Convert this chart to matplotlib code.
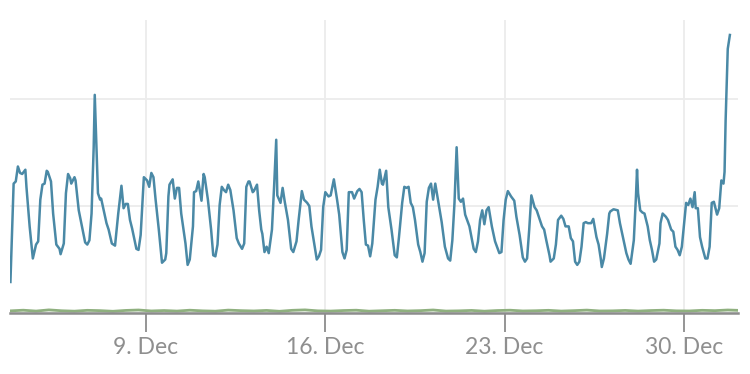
import numpy as np
import pandas as pd
import matplotlib
matplotlib.use("Agg")
import matplotlib.pyplot as plt
import matplotlib.dates as mdates

plt.rcParams["font.family"] = ["Lato", "DejaVu Sans"]

START = pd.Timestamp("2019-12-03")

# hours since START, and the blue series value at that hour
blue_hours = [
    17, 20, 22, 24, 26, 28, 31, 32, 35, 38, 41, 43, 45, 47, 49, 51, 52, 55, 57, 60,
    63, 64, 67, 69, 71, 73, 74, 77, 78, 81, 84, 87, 89, 91, 93, 95, 96, 99, 101, 102,
    107, 109, 112, 115, 118, 121, 123, 125, 127,
    129, 131, 135, 137, 139, 142, 145, 147, 149, 151, 153, 156, 159, 162, 163, 165, 166, 169, 171, 173,
    175, 177, 181, 183, 185, 188, 189, 191, 193, 196, 198, 199, 202, 205, 207, 209, 211, 213, 215, 217,
    219, 221, 223, 226, 229, 231, 234, 236, 238, 240,
    241, 244, 245, 248, 250, 252, 253, 255, 257, 259, 262, 264, 266, 267, 270, 272, 274, 277, 280, 282,
    285, 287, 290, 292, 295, 297, 299, 302, 304, 306, 308, 310, 312, 315, 317, 320, 323, 325, 328, 330,
    332, 334, 337, 339, 342, 344, 346, 348, 350, 352, 354,
    356, 359, 361, 363, 365, 366, 369, 371, 374, 377, 379, 381, 384, 386, 388, 390, 392, 394, 396, 399,
    401, 403, 405, 407, 409, 411, 413, 415, 418, 421, 424, 427, 429, 431, 433, 435, 437, 439, 441, 443,
    447, 451, 453, 455, 457, 459, 461, 463, 465,
    468, 471, 475, 477, 479, 481, 483, 486, 489, 491, 494, 497, 499, 501, 503, 505, 508, 510, 512, 515,
    517, 519, 522, 523, 526, 528, 530, 533, 535, 537, 540, 542, 544, 546, 548, 550, 552, 554, 556, 558,
    561, 563, 566, 568, 570, 571, 573, 576, 578,
    579, 582, 586, 588, 591, 594, 596, 598, 601, 603, 604, 605, 607, 609, 611, 614, 616, 618, 620, 622,
    625, 626, 628, 631, 633, 636, 638, 640, 642, 644, 646, 649, 650, 652, 654, 656, 658, 659, 661, 663,
    665, 668, 670, 672, 674, 676, 679, 681, 683, 685, 686, 687, 689, 691,
]
blue_values = [
    29, 121, 123, 137, 131, 130, 134, 118, 81, 51, 64, 67, 106, 120, 121, 133, 132, 123, 93, 64,
    60, 55, 65, 112, 130, 126, 121, 127, 124, 96, 81, 66, 64, 68, 93, 155, 204, 112, 106, 107,
    84, 78, 65, 63, 93, 119, 98, 102, 102,
    87, 79, 60, 59, 73, 127, 124, 118, 131, 127, 106, 78, 47, 50, 56, 109, 120, 125, 107, 117,
    117, 93, 65, 45, 50, 81, 113, 114, 123, 105, 130, 127, 106, 78, 54, 53, 64, 101, 118, 115,
    113, 120, 115, 96, 70, 65, 60, 65, 118, 123,
    123, 113, 114, 120, 96, 78, 74, 57, 62, 56, 78, 118, 162, 110, 103, 117, 104, 87, 60, 57,
    67, 87, 114, 106, 103, 100, 81, 62, 50, 53, 59, 99, 113, 109, 110, 125, 106, 92, 57, 51,
    59, 113, 113, 107, 114, 116, 113, 87, 64, 63, 53,
    65, 106, 118, 134, 121, 120, 133, 99, 78, 54, 52, 71, 103, 118, 117, 118, 103, 99, 87, 64,
    57, 48, 56, 104, 117, 121, 106, 121, 103, 85, 62, 51, 49, 68, 103, 155, 107, 104, 107, 92,
    81, 60, 57, 67, 87, 96, 83, 96, 99,
    81, 67, 56, 57, 87, 106, 114, 109, 105, 90, 73, 52, 48, 51, 78, 110, 99, 96, 90, 81,
    78, 68, 54, 48, 51, 64, 87, 91, 88, 81, 81, 70, 67, 48, 45, 48, 62, 84, 85, 84,
    84, 88, 71, 64, 51, 43, 51, 74, 93,
    95, 97, 96, 84, 70, 56, 50, 46, 68, 109, 134, 112, 96, 94, 93, 81, 68, 59, 48, 50,
    65, 84, 93, 90, 87, 78, 76, 62, 59, 54, 62, 93, 103, 101, 107, 99, 113, 98, 98, 71,
    62, 51, 51, 62, 103, 104, 92, 98, 124, 121, 132, 180, 247, 260,
]

# green series, one value every 12 hours from hour 17
green_values = [
    2.0, 2.6, 1.8, 2.9, 2.1, 1.7, 2.5, 2.2, 1.6, 2.4,
    2.8, 1.9, 2.3, 1.8, 2.6, 2.0, 1.7, 2.7, 2.2, 1.9,
    2.4, 1.6, 2.5, 2.9, 2.0, 1.8, 2.3, 2.6, 1.7, 2.1,
    2.5, 1.9, 2.2, 2.8, 1.8, 2.0, 2.4, 1.7, 2.3, 2.6,
    1.9, 2.1, 2.5, 1.8, 2.2, 2.7, 1.9, 2.0, 2.4, 1.8,
    2.3, 2.6, 2.0, 1.9, 2.5, 2.2, 2.8, 2.4,
]
green_hours = 17 + 12 * np.arange(len(green_values))

x_ticks = ["2019-12-09", "2019-12-16", "2019-12-23", "2019-12-30"]

blue_t = START + pd.to_timedelta(blue_hours, unit="h")
green_t = START + pd.to_timedelta(green_hours, unit="h")

fig = plt.figure(figsize=(7.5, 3.74), dpi=100)
ax = fig.add_axes([10 / 750, 61 / 374, 728 / 750, 293 / 374])

ax.plot(green_t, green_values, color="#8fb07f", lw=2, zorder=2)
ax.plot(blue_t, blue_values, color="#4a89a6", lw=1.8, zorder=3)

ax.set_xlim(START + pd.Timedelta(hours=16.6), START + pd.Timedelta(hours=698.6))
ax.set_ylim(0, 274)

ax.set_yticks([0, 100, 200])
ax.set_yticklabels([])
ax.tick_params(axis="y", length=0)
ax.set_xticks(pd.to_datetime(x_ticks))
ax.xaxis.set_major_formatter(mdates.DateFormatter("%-d. %b"))
ax.tick_params(axis="x", length=14, width=1.3, color="#8c8c8c",
               labelcolor="#8f8f8f", labelsize=16.5, pad=3)

ax.grid(True, color="#ececec", lw=1.3, zorder=0)
ax.set_axisbelow(True)
for s in ["top", "left", "right"]:
    ax.spines[s].set_visible(False)
ax.spines["bottom"].set_color("#8c8c8c")
ax.spines["bottom"].set_linewidth(1.8)

fig.savefig("out.png", dpi=100)
